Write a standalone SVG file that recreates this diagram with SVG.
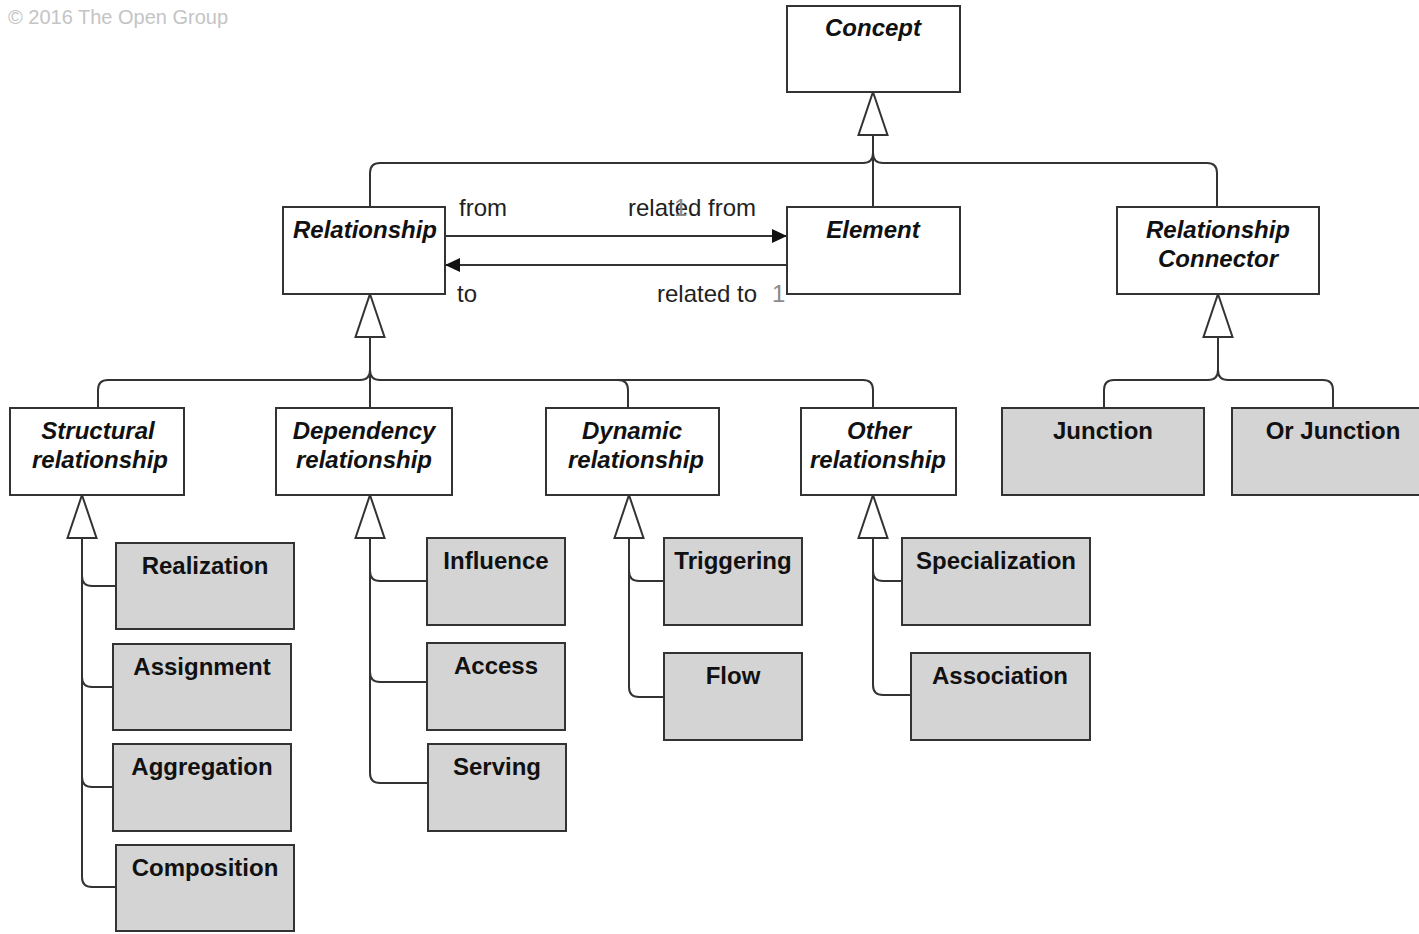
<svg xmlns="http://www.w3.org/2000/svg" xmlns:xlink="http://www.w3.org/1999/xlink" width="1419" height="934" viewBox="0 0 1419 934">
<style>
.box{fill:#ffffff;stroke:#333333;stroke-width:2}
.gbox{fill:#d4d4d4;stroke:#333333;stroke-width:2}
.lbl{font-family:"Liberation Sans",Arial,sans-serif;font-size:24px;font-weight:bold;font-style:italic;fill:#111111;text-anchor:middle}
.glbl{font-family:"Liberation Sans",Arial,sans-serif;font-size:24px;font-weight:bold;fill:#111111;text-anchor:middle}
.edge{fill:none;stroke:#333333;stroke-width:2}
.role{font-family:"Liberation Sans",Arial,sans-serif;font-size:24px;fill:#222222}
.mult{font-family:"Liberation Sans",Arial,sans-serif;font-size:24px;fill:#8a8a8a}
.copy{font-family:"Liberation Sans",Arial,sans-serif;font-size:20px;fill:#c4c4c4}
.gen{fill:#ffffff;stroke:#333333;stroke-width:2;stroke-linejoin:miter}
</style>
<defs>
<marker id="arr" markerUnits="userSpaceOnUse" markerWidth="16" markerHeight="15" refX="15" refY="7" orient="auto">
<path d="M0,0 L15,7 L0,14 z" fill="#111111"/>
</marker>
<polygon id="tri" class="gen" points="0,0 14.5,43 -14.5,43"/>
</defs>
<text class="copy" x="8" y="24">© 2016 The Open Group</text>
<g id="connectors">
<path class="edge" d="M873 135 V207"/>
<path class="edge" d="M370 207 V173 Q370 163 380 163 H863 Q873 163 873 153"/>
<path class="edge" d="M1217 207 V173 Q1217 163 1207 163 H883 Q873 163 873 153"/>
<path class="edge" d="M445 236 H787" marker-end="url(#arr)"/>
<path class="edge" d="M787 265 H445" marker-end="url(#arr)"/>
<text class="role" x="459" y="216">from</text>
<text class="role" x="628" y="216">related from</text>
<text class="mult" x="674" y="216">1</text>
<text class="role" x="457" y="302">to</text>
<text class="role" x="657" y="302">related to</text>
<text class="mult" x="772" y="302">1</text>
<path class="edge" d="M370 337 V408"/>
<path class="edge" d="M98 408 V390 Q98 380 108 380 H360 Q370 380 370 370"/>
<path class="edge" d="M873 408 V390 Q873 380 863 380 H380 Q370 380 370 370"/>
<path class="edge" d="M628 408 V390 Q628 380 618 380"/>
<path class="edge" d="M1218 337 V370"/>
<path class="edge" d="M1104 408 V390 Q1104 380 1114 380 H1208 Q1218 380 1218 370"/>
<path class="edge" d="M1333 408 V390 Q1333 380 1323 380 H1228 Q1218 380 1218 370"/>
<path class="edge" d="M82 538 V877 Q82 887 92 887 H116"/>
<path class="edge" d="M82 576 Q82 586 92 586 H116"/>
<path class="edge" d="M82 677 Q82 687 92 687 H113"/>
<path class="edge" d="M82 777 Q82 787 92 787 H113"/>
<path class="edge" d="M370 538 V773 Q370 783 380 783 H428"/>
<path class="edge" d="M370 571 Q370 581 380 581 H427"/>
<path class="edge" d="M370 672 Q370 682 380 682 H427"/>
<path class="edge" d="M629 538 V687 Q629 697 639 697 H664"/>
<path class="edge" d="M629 571 Q629 581 639 581 H664"/>
<path class="edge" d="M873 538 V685 Q873 695 883 695 H911"/>
<path class="edge" d="M873 571 Q873 581 883 581 H902"/>
<use xlink:href="#tri" x="873" y="92"/>
<use xlink:href="#tri" x="370" y="294"/>
<use xlink:href="#tri" x="1218" y="294"/>
<use xlink:href="#tri" x="82" y="495"/>
<use xlink:href="#tri" x="370" y="495"/>
<use xlink:href="#tri" x="629" y="495"/>
<use xlink:href="#tri" x="873" y="495"/>
</g>
<g id="concept"><rect class="box" x="787" y="6" width="173" height="86"/><text class="lbl" x="873" y="36">Concept</text></g>
<g id="relationship"><rect class="box" x="283" y="207" width="162" height="87"/><text class="lbl" x="365" y="238">Relationship</text></g>
<g id="element"><rect class="box" x="787" y="207" width="173" height="87"/><text class="lbl" x="873" y="238">Element</text></g>
<g id="relationship-connector"><rect class="box" x="1117" y="207" width="202" height="87"/><text class="lbl" x="1218" y="238">Relationship</text><text class="lbl" x="1218" y="267">Connector</text></g>
<g id="structural"><rect class="box" x="10" y="408" width="174" height="87"/><text class="lbl" x="98" y="439">Structural</text><text class="lbl" x="100" y="468">relationship</text></g>
<g id="dependency"><rect class="box" x="276" y="408" width="176" height="87"/><text class="lbl" x="364" y="439">Dependency</text><text class="lbl" x="364" y="468">relationship</text></g>
<g id="dynamic"><rect class="box" x="546" y="408" width="173" height="87"/><text class="lbl" x="632" y="439">Dynamic</text><text class="lbl" x="636" y="468">relationship</text></g>
<g id="other"><rect class="box" x="801" y="408" width="155" height="87"/><text class="lbl" x="879" y="439">Other</text><text class="lbl" x="878" y="468">relationship</text></g>
<g id="junction"><rect class="gbox" x="1002" y="408" width="202" height="87"/><text class="glbl" x="1103" y="439">Junction</text></g>
<g id="or-junction"><rect class="gbox" x="1232" y="408" width="200" height="87"/><text class="glbl" x="1333" y="439">Or Junction</text></g>
<g id="realization"><rect class="gbox" x="116" y="543" width="178" height="86"/><text class="glbl" x="205" y="574">Realization</text></g>
<g id="assignment"><rect class="gbox" x="113" y="644" width="178" height="86"/><text class="glbl" x="202" y="675">Assignment</text></g>
<g id="aggregation"><rect class="gbox" x="113" y="744" width="178" height="87"/><text class="glbl" x="202" y="775">Aggregation</text></g>
<g id="composition"><rect class="gbox" x="116" y="845" width="178" height="86"/><text class="glbl" x="205" y="876">Composition</text></g>
<g id="influence"><rect class="gbox" x="427" y="538" width="138" height="87"/><text class="glbl" x="496" y="569">Influence</text></g>
<g id="access"><rect class="gbox" x="427" y="643" width="138" height="87"/><text class="glbl" x="496" y="674">Access</text></g>
<g id="serving"><rect class="gbox" x="428" y="744" width="138" height="87"/><text class="glbl" x="497" y="775">Serving</text></g>
<g id="triggering"><rect class="gbox" x="664" y="538" width="138" height="87"/><text class="glbl" x="733" y="569">Triggering</text></g>
<g id="flow"><rect class="gbox" x="664" y="653" width="138" height="87"/><text class="glbl" x="733" y="684">Flow</text></g>
<g id="specialization"><rect class="gbox" x="902" y="538" width="188" height="87"/><text class="glbl" x="996" y="569">Specialization</text></g>
<g id="association"><rect class="gbox" x="911" y="653" width="179" height="87"/><text class="glbl" x="1000" y="684">Association</text></g>
</svg>
